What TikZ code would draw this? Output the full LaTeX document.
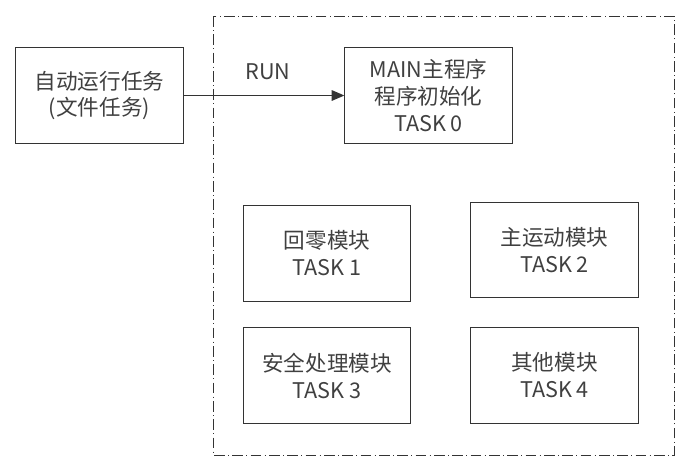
\documentclass[tikz,border=0pt]{standalone}
\usepackage{fontspec}
\setmainfont{Noto Sans CJK SC}
\usepackage{tikz}
\usetikzlibrary{arrows.meta}
\usetikzlibrary{calc,positioning}

\begin{document}
\begin{tikzpicture}[x=0.75pt, y=-0.75pt, taskbox/.style = {draw=black!80, line width=0.75pt, align=center, inner sep=1pt, minimum width=125.5pt, minimum height=71.5pt, font=\fontsize{16.2}{20.2}\selectfont, text=black!75}, frame/.style = {draw=black!80, line width=0.75pt, dash pattern=on 8pt off 2.5pt on 0.75pt off 2.5pt}, runarrow/.style = {draw=black!80, line width=0.75pt, -{Triangle[length=9.5pt, width=8pt]}}, ]
			\useasboundingbox (0,0) rectangle (693,472);
			\draw [frame] (213,16) rectangle (674,455);
			\node [taskbox] (auto) at (99.5,95.5) {自动运行任务\\(文件任务)};
			\node [taskbox] (main) at (428.5,95.5) {MAIN主程序\\程序初始化\\TASK 0};
			\node [taskbox] (home) at (327,253.5) {回零模块\\TASK 1};
			\node [taskbox] (motion) at (554.5,250) {主运动模块\\TASK 2};
			\node [taskbox] (safety) at (327,375.5) {安全处理模块\\TASK 3};
			\node [taskbox] (other) at (554.5,375.5) {其他模块\\TASK 4};
			\draw [runarrow] (auto) -- (main);
			\node [font=\fontsize{16.2}{20.2}\selectfont, text=black!75] (run) at (268,72) {RUN};
		\end{tikzpicture}
\end{document}
